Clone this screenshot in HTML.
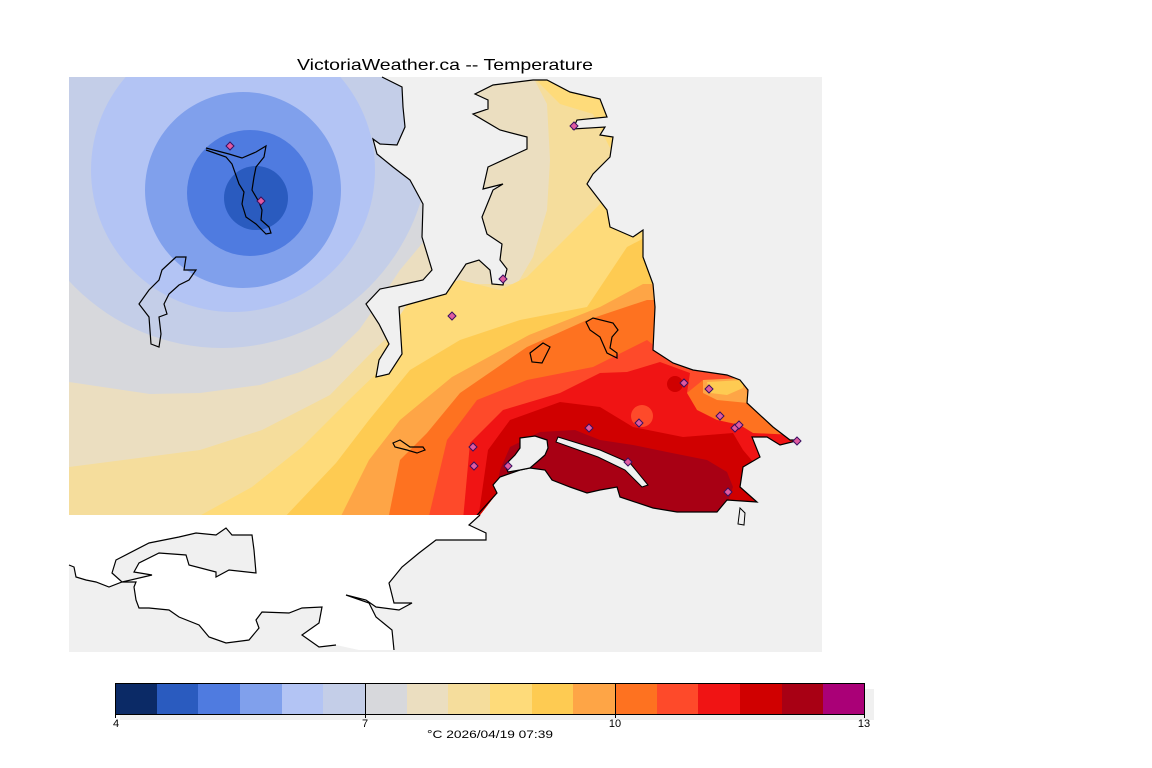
<!DOCTYPE html>
<html><head><meta charset="utf-8"><style>
html,body{margin:0;padding:0;background:#fff;}
svg{display:block;}
text{font-family:"Liberation Sans",sans-serif;}
</style></head><body>
<svg width="1152" height="768" viewBox="0 0 1152 768" xmlns="http://www.w3.org/2000/svg">
<defs>
<clipPath id="dom"><path d="M69,77 L382,77 L402,87 L403,107 L405,127 L397,145 L380,144 L373,139 L377,154 L393,167 L410,180 L423,204 L422,237 L432,270 L423,280 L400,285 L380,289 L366,304 L379,324 L389,344 L379,360 L376,377 L389,374 L402,354 L399,307 L446,294 L466,264 L479,260 L490,270 L492,284 L503,285 L507,269 L500,260 L502,244 L487,234 L482,217 L493,190 L503,184 L483,189 L488,167 L527,149 L527,137 L500,130 L473,114 L488,109 L488,100 L475,94 L493,85 L533,80 L547,80 L570,92 L600,99 L607,117 L577,120 L573,129 L605,127 L600,135 L613,137 L610,157 L593,174 L587,184 L607,210 L610,227 L633,237 L643,230 L643,257 L653,284 L655,307 L653,350 L673,363 L693,370 L727,375 L740,380 L748,390 L747,403 L773,427 L790,440 L800,440 L780,445 L767,437 L752,437 L760,457 L743,467 L740,487 L757,502 L727,500 L717,512 L677,512 L653,508 L620,497 L617,487 L600,490 L587,493 L570,487 L552,480 L545,470 L530,468 L520,470 L500,477 L493,485 L497,493 L480,515 L69,515 Z"/></clipPath>
</defs>
<rect x="69" y="77" width="753" height="575" fill="#f0f0f0"/>
<g clip-path="url(#dom)">
<rect x="60" y="70" width="800" height="460" fill="#d7d8dc"/>
<path d="M69,382 L150,394 L200,393 L260,385 L300,372 L330,358 L359,330 L380,300 L400,270 L425,240 L440,200 L445,77 L900,77 L900,700 L69,700 Z" fill="#ebdec0"/>
<path d="M69,467 L100,463 L200,450 L262,430 L330,395 L369,355 L400,325 L440,300 L470,284 L517,284 L533,257 L547,210 L550,160 L547,104 L533,77 L900,77 L900,700 L69,700 Z" fill="#f5dd9c"/>
<path d="M192,520 L252,487 L302,447 L352,397 L380,370 L390,330 L417,290 L460,280 L500,290 L527,277 L560,244 L600,204 L613,154 L593,114 L560,104 L533,77 L900,77 L900,700 L192,700 Z" fill="#fedb7a"/>
<path d="M282,520 L336,463 L369,420 L410,370 L460,340 L520,320 L587,307 L627,247 L650,235 L900,235 L900,700 L282,700 Z" fill="#fecb52"/>
<path d="M339,520 L369,460 L400,420 L452,377 L529,335 L600,307 L643,284 L900,284 L900,700 L339,700 Z" fill="#fea546"/>
<path d="M388,520 L400,460 L427,433 L460,393 L527,347 L587,320 L647,300 L900,300 L900,700 L388,700 Z" fill="#fe7220"/>
<path d="M428,520 L447,440 L477,400 L527,380 L593,367 L647,340 L660,350 L690,365 L900,365 L900,700 L428,700 Z" fill="#fe4a2a"/>
<path d="M703,380 L745,378 L760,395 L780,430 L800,445 L760,445 L740,425 L717,420 L697,410 L687,393 Z" fill="#fe7220"/>
<path d="M703,380 L745,378 L748,403 L717,400 L703,393 Z" fill="#fea546"/>
<path d="M707,382 L743,380 L743,388 L727,395 L710,393 Z" fill="#fecb52"/>
<path d="M463,520 L470,443 L503,410 L560,393 L600,373 L627,372 L660,362 L690,373 L687,393 L697,410 L717,420 L740,425 L753,433 L900,440 L900,700 L463,700 Z" fill="#f01414"/>
<path d="M478,520 L488,450 L510,420 L560,402 L600,407 L633,427 L683,437 L733,433 L743,450 L760,470 L900,470 L900,700 L478,700 Z" fill="#d00000"/>
<circle cx="675" cy="384" r="8" fill="#d00000"/>
<circle cx="642" cy="416" r="11" fill="#fe4a2a"/>
<path d="M500,470 L510,447 L540,432 L575,430 L600,440 L633,445 L667,452 L707,460 L727,472 L733,487 L727,505 L700,525 L490,525 Z" fill="#a80014"/>
<circle cx="222" cy="140" r="208" fill="#c4cee8"/>
<circle cx="233" cy="170" r="142" fill="#b3c4f4"/>
<circle cx="243" cy="190" r="98" fill="#80a0ec"/>
<circle cx="250" cy="193" r="63" fill="#4f7be0"/>
<circle cx="256" cy="198" r="32" fill="#2a5bbf"/>
</g>
<path d="M382,77 L402,87 L403,107 L405,127 L397,145 L380,144 L373,139 L377,154 L393,167 L410,180 L423,204 L422,237 L432,270 L423,280 L400,285 L380,289 L366,304 L379,324 L389,344 L379,360 L376,377 L389,374 L402,354 L399,307 L446,294 L466,264 L479,260 L490,270 L492,284 L503,285 L507,269 L500,260 L502,244 L487,234 L482,217 L493,190 L503,184 L483,189 L488,167 L527,149 L527,137 L500,130 L473,114 L488,109 L488,100 L475,94 L493,85 L533,80 L547,80 L570,92 L600,99 L607,117 L577,120 L573,129 L605,127 L600,135 L613,137 L610,157 L593,174 L587,184 L607,210 L610,227 L633,237 L643,230 L643,257 L653,284 L655,307 L653,350 L673,363 L693,370 L727,375 L740,380 L748,390 L747,403 L773,427 L790,440 L800,440 L780,445 L767,437 L752,437 L760,457 L743,467 L740,487 L757,502 L727,500 L717,512 L677,512 L653,508 L620,497 L617,487 L600,490 L587,493 L570,487 L552,480 L545,470 L530,468 L520,470 L500,477 L493,485 L497,493 L470,523" fill="none" stroke="#000" stroke-width="1.2"/>
<path d="M520,438 L535,436 L547,440 L548,448 L545,455 L537,462 L530,468 L520,470 L508,472 L505,465 L515,455 L520,448 Z" fill="#f0f0f0" stroke="#000" stroke-width="1.2"/>
<path d="M558,437 L600,450 L630,463 L648,485 L642,487 L625,470 L598,457 L556,442 Z" fill="#f0f0f0" stroke="#000" stroke-width="1"/>
<path d="M740,508 L745,513 L744,525 L738,524 Z" fill="#f0f0f0" stroke="#000" stroke-width="1"/>
<path d="M176,257 L186,257 L184,270 L196,270 L189,280 L179,285 L169,294 L164,304 L167,314 L159,317 L161,334 L159,347 L151,344 L149,317 L139,304 L149,290 L159,280 L162,270 Z" fill="none" stroke="#000" stroke-width="1.2"/>
<path d="M206,148 L229,154 L242,158 L256,152 L266,146 L264,157 L256,167 L254,177 L252,190 L259,202 L262,210 L261,220 L269,227 L271,233 L266,234 L256,224 L246,217 L242,204 L244,192 L239,184 L232,164 L226,157 L206,150" fill="none" stroke="#000" stroke-width="1.2"/>
<path d="M586,322 L593,318 L613,323 L618,330 L612,337 L610,348 L617,353 L617,358 L607,353 L600,337 L590,330 Z" fill="none" stroke="#000" stroke-width="1.2"/>
<path d="M530,353 L543,343 L550,347 L542,363 L532,362 Z" fill="none" stroke="#000" stroke-width="1.2"/>
<path d="M393,443 L400,440 L410,447 L423,447 L425,450 L417,453 L407,450 L395,447 Z" fill="none" stroke="#000" stroke-width="1.2"/>
<path d="M69,515 L480,515 L469,525 L486,533 L486,540 L436,540 L419,553 L402,567 L389,583 L394,603 L412,603 L399,610 L376,607 L366,600 L346,595 L369,603 L376,617 L392,630 L394,650 L359,650 L336,645 L319,647 L302,635 L319,623 L322,607 L302,608 L289,613 L262,612 L256,620 L259,628 L249,640 L226,643 L209,637 L199,625 L179,617 L169,610 L149,608 L139,608 L136,600 L134,587 L136,582 L122,582 L109,587 L96,582 L86,580 L76,577 L74,567 L69,565 Z" fill="#fff"/>
<path d="M480,515 L469,525 L486,533 L486,540 L436,540 L419,553 L402,567 L389,583 L394,603 L412,603 L399,610 L376,607 L366,600 L346,595 L369,603 L376,617 L392,630 L394,650 M336,645 L319,647 L302,635 L319,623 L322,607 L302,608 L289,613 L262,612 L256,620 L259,628 L249,640 L226,643 L209,637 L199,625 L179,617 L169,610 L149,608 L139,608 L136,600 L134,587 L136,582 L122,582 L109,587 L96,582 L86,580 L76,577 L74,567 L69,565" fill="none" stroke="#000" stroke-width="1.2"/>
<path d="M116,560 L149,543 L179,537 L196,533 L216,535 L226,528 L232,535 L252,535 L254,550 L256,573 L229,570 L216,577 L216,572 L189,565 L186,555 L159,553 L139,563 L134,572 L152,575 L122,582 L112,573 Z" fill="#f0f0f0" stroke="#000" stroke-width="1.2"/>
<g fill="#e05aa0" stroke="#3a1060" stroke-width="1">
<path d="M230,142 l4,4 l-4,4 l-4,-4 Z"/>
<path d="M261,197 l4,4 l-4,4 l-4,-4 Z"/>
<path d="M574,122 l4,4 l-4,4 l-4,-4 Z"/>
<path d="M503,275 l4,4 l-4,4 l-4,-4 Z"/>
<path d="M452,312 l4,4 l-4,4 l-4,-4 Z"/>
<path d="M473,443 l4,4 l-4,4 l-4,-4 Z"/>
<path d="M474,462 l4,4 l-4,4 l-4,-4 Z"/>
<path d="M508,462 l4,4 l-4,4 l-4,-4 Z"/>
<path d="M589,424 l4,4 l-4,4 l-4,-4 Z"/>
<path d="M639,419 l4,4 l-4,4 l-4,-4 Z"/>
<path d="M628,458 l4,4 l-4,4 l-4,-4 Z"/>
<path d="M684,379 l4,4 l-4,4 l-4,-4 Z"/>
<path d="M709,385 l4,4 l-4,4 l-4,-4 Z"/>
<path d="M720,412 l4,4 l-4,4 l-4,-4 Z"/>
<path d="M735,424 l4,4 l-4,4 l-4,-4 Z"/>
<path d="M739,421 l4,4 l-4,4 l-4,-4 Z"/>
<path d="M728,488 l4,4 l-4,4 l-4,-4 Z"/>
<path d="M797,437 l4,4 l-4,4 l-4,-4 Z"/>
</g>
<text x="445" y="70" font-size="16" text-anchor="middle" textLength="296" lengthAdjust="spacingAndGlyphs" fill="#000">VictoriaWeather.ca -- Temperature</text>
<rect x="120" y="689" width="754" height="31" fill="#f0f0f0"/>
<g>
<rect x="115" y="683" width="42" height="31" fill="#0b2a66"/>
<rect x="157" y="683" width="41" height="31" fill="#2a5bbf"/>
<rect x="198" y="683" width="42" height="31" fill="#4f7be0"/>
<rect x="240" y="683" width="42" height="31" fill="#80a0ec"/>
<rect x="282" y="683" width="41" height="31" fill="#b3c4f4"/>
<rect x="323" y="683" width="42" height="31" fill="#c4cee8"/>
<rect x="365" y="683" width="42" height="31" fill="#d7d8dc"/>
<rect x="407" y="683" width="41" height="31" fill="#ebdec0"/>
<rect x="448" y="683" width="42" height="31" fill="#f5dd9c"/>
<rect x="490" y="683" width="42" height="31" fill="#fedb7a"/>
<rect x="532" y="683" width="41" height="31" fill="#fecb52"/>
<rect x="573" y="683" width="42" height="31" fill="#fea546"/>
<rect x="615" y="683" width="42" height="31" fill="#fe7220"/>
<rect x="657" y="683" width="41" height="31" fill="#fe4a2a"/>
<rect x="698" y="683" width="42" height="31" fill="#f01414"/>
<rect x="740" y="683" width="42" height="31" fill="#d00000"/>
<rect x="782" y="683" width="41" height="31" fill="#a80014"/>
<rect x="823" y="683" width="41" height="31" fill="#aa0077"/>
</g>
<rect x="115.5" y="683.5" width="749" height="31" fill="none" stroke="#000" stroke-width="1"/>
<line x1="365.5" y1="683" x2="365.5" y2="718" stroke="#000"/>
<line x1="615.5" y1="683" x2="615.5" y2="718" stroke="#000"/>
<line x1="115.5" y1="714" x2="115.5" y2="718" stroke="#000"/>
<line x1="864.5" y1="714" x2="864.5" y2="718" stroke="#000"/>
<g font-size="11" fill="#000" text-anchor="middle">
<text x="116" y="727">4</text>
<text x="365" y="727">7</text>
<text x="615" y="727">10</text>
<text x="864" y="727">13</text>
<text x="490" y="738" textLength="126" lengthAdjust="spacingAndGlyphs">°C  2026/04/19 07:39</text>
</g>
</svg>
</body></html>
